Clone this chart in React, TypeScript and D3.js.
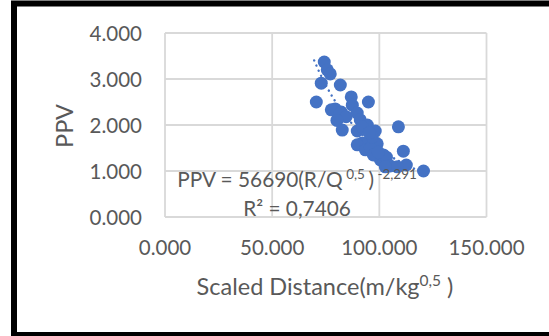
import React from "react";
import * as d3 from "d3";

const width = 549;
const height = 336;
const plot = { left: 165, right: 486.5, top: 33, bottom: 217 };

// scaled distance (m/kg^0.5) and PPV
const sdValues = [
  74.3, 75.7, 77.1, 72.9, 81.8, 70.6, 86.9, 94.9, 79.4, 82.2, 77.6, 81.8, 82.7,
  87.4, 89.7, 91.1, 94.4, 89.7, 98.1, 108.9, 92.1, 89.7, 93.5, 99.0, 95.8, 101.9,
  100.5, 103.3, 105.1, 111.2, 112.6, 108.4, 120.6, 102.8, 96.7, 92.1, 95.3, 97.2,
  99.5, 84.5, 80.2,
];
const ppvValues = [
  3.37, 3.2, 3.11, 2.91, 2.87, 2.5, 2.61, 2.5, 2.35, 2.28, 2.33, 2.26, 1.89, 2.43,
  2.26, 2.11, 2.0, 1.87, 1.87, 1.96, 1.61, 1.57, 1.46, 1.59, 1.5, 1.35, 1.24, 1.3,
  1.11, 1.43, 1.13, 1.09, 1.0, 1.09, 1.74, 1.96, 1.83, 1.35, 1.41, 2.18, 2.1,
];
const xTicks = [0, 50, 100, 150];
const yTicks = [0, 1, 2, 3, 4];

// power trendline as printed on the chart
const trendA = 56690;
const trendB = -2.291;

const font = "Lato, 'Noto Sans', sans-serif";
const textColor = "#595959";
const blue = "#4472C4";

const App = () => {
  const xScale = d3.scaleLinear().domain([0, 150]).range([plot.left, plot.right]);
  const yScale = d3.scaleLinear().domain([0, 4]).range([plot.bottom, plot.top]);
  const fmt = d3.format(".3f");

  const points = sdValues.map((x, i) => ({ x, y: ppvValues[i] }));

  const [xMin, xMax] = d3.extent(sdValues) as [number, number];
  const trendData = d3.range(xMin - 1, xMax + 0.01, 0.5).map((x) => ({
    x,
    y: trendA * Math.pow(x, trendB),
  }));
  const trendLine = d3
    .line<{ x: number; y: number }>()
    .x((d) => xScale(d.x))
    .y((d) => yScale(d.y))(trendData);

  return (
    <svg
      width={width}
      height={height}
      style={{ position: "absolute", left: 0, top: 0, background: "#fff" }}
    >
      <rect x={0} y={0} width={width} height={height} fill="#fff" />

      {/* grid */}
      <g stroke="#d9d9d9" strokeWidth={1.8} fill="none">
        {yTicks.map((t) => (
          <line key={"gy" + t} x1={plot.left} x2={plot.right} y1={yScale(t)} y2={yScale(t)} />
        ))}
        {xTicks.map((t) => (
          <line key={"gx" + t} x1={xScale(t)} x2={xScale(t)} y1={plot.top} y2={plot.bottom} />
        ))}
      </g>

      {/* tick labels */}
      <g fontFamily={font} fontSize={20.5} fill={textColor}>
        {yTicks.map((t) => (
          <text key={"ty" + t} x={142} y={yScale(t) + 7.5} textAnchor="end">
            {fmt(t)}
          </text>
        ))}
        {xTicks.map((t) => (
          <text key={"tx" + t} x={xScale(t)} y={255} textAnchor="middle">
            {fmt(t)}
          </text>
        ))}
      </g>

      {/* dotted trendline */}
      <path
        d={trendLine || ""}
        fill="none"
        stroke={blue}
        strokeWidth={2.4}
        strokeLinecap="round"
        strokeDasharray="0.1 5.5"
      />

      {/* markers */}
      <g fill={blue}>
        {points.map((d, i) => (
          <circle key={i} cx={xScale(d.x)} cy={yScale(d.y)} r={6.5} />
        ))}
      </g>

      {/* equation */}
      <g fontFamily={font} fill={textColor}>
        <text x={297} y={187} fontSize={20.8} textAnchor="middle">
          PPV = 56690(R/Q
          <tspan fontSize={13.5} dy={-8}> 0,5 </tspan>
          <tspan dy={8}>)</tspan>
          <tspan fontSize={13.5} dy={-8}> -2,291</tspan>
        </text>
        <text x={297} y={216} fontSize={20.8} textAnchor="middle">
          R² = 0,7406
        </text>
      </g>

      {/* axis titles */}
      <g fontFamily={font} fill={textColor} fontSize={23.5}>
        <text x={325} y={295} textAnchor="middle">
          Scaled Distance(m/kg
          <tspan fontSize={15.5} dy={-9}>0,5</tspan>
          <tspan dy={9}> )</tspan>
        </text>
        <text transform="translate(73,126) rotate(-90)" textAnchor="middle">
          PPV
        </text>
      </g>

      {/* frame */}
      <rect
        x={14}
        y={3.5}
        width={620}
        height={331.5}
        fill="none"
        stroke="#000"
        strokeWidth={6}
      />
    </svg>
  );
};

export default App;
